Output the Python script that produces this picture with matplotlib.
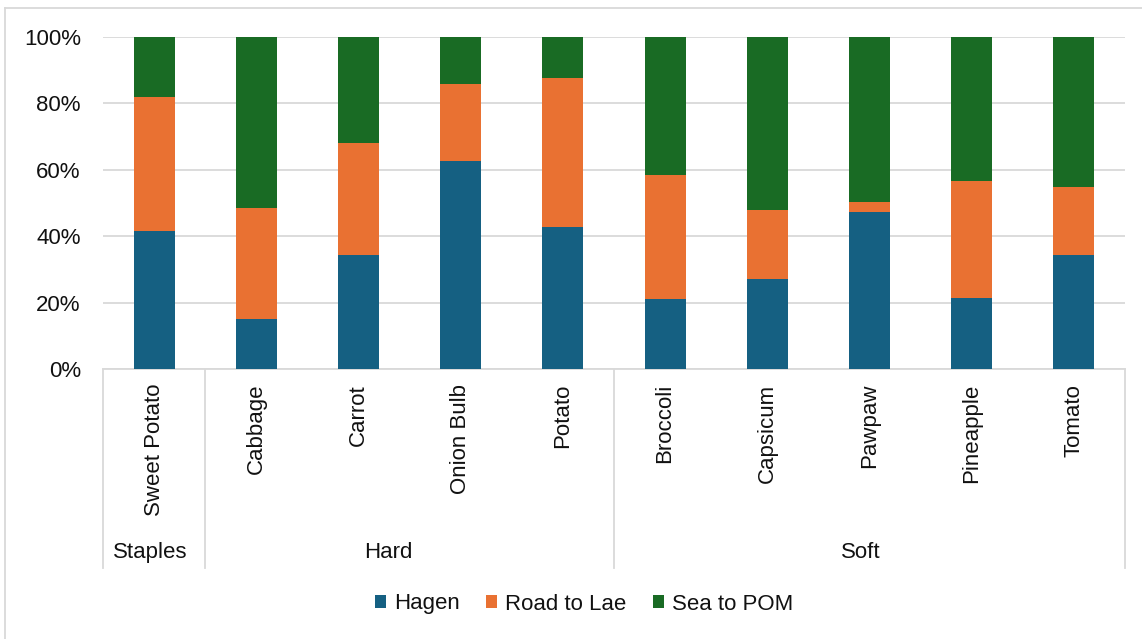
import matplotlib
matplotlib.use("Agg")
import matplotlib.pyplot as plt
from matplotlib.patches import Patch
from matplotlib.lines import Line2D
from matplotlib.ticker import PercentFormatter
import numpy as np

# Share of each product's flow by route (%)
categories = ["Sweet Potato", "Cabbage", "Carrot", "Onion Bulb", "Potato",
              "Broccoli", "Capsicum", "Pawpaw", "Pineapple", "Tomato"]
hagen = [41.6, 15.1, 34.3, 62.7, 42.8, 21.1, 27.1, 47.3, 21.4, 34.3]
road_to_lae = [40.3, 33.4, 33.8, 23.1, 44.9, 37.3, 20.8, 3.0, 35.2, 20.5]
sea_to_pom = [18.1, 51.5, 31.9, 14.2, 12.3, 41.6, 52.1, 49.7, 43.4, 45.2]

groups = ["Staples", "Hard", "Soft"]
group_sizes = [1, 4, 5]

series_names = ["Hagen", "Road to Lae", "Sea to POM"]
colors = ["#156082", "#E97132", "#196B24"]

plt.rcParams["font.family"] = ["Liberation Sans", "DejaVu Sans"]
text_color = "#111111"
grid_color = "#d9d9d9"
fs = 16

fig = plt.figure(figsize=(11.42, 6.39), dpi=100)
W, H = 1142, 639
ax = fig.add_axes([103 / W, (H - 369) / H, (1125 - 103) / W, (369 - 37) / H])

x = np.arange(len(categories))
bottom = np.zeros(len(categories))
for vals, col, name in zip([hagen, road_to_lae, sea_to_pom], colors, series_names):
    ax.bar(x, vals, width=0.4, bottom=bottom, color=col, label=name, zorder=3)
    bottom += np.array(vals)

ax.set_xlim(-0.5, len(categories) - 0.5)
ax.set_ylim(0, 100)
ax.set_yticks(np.arange(0, 101, 20))
ax.yaxis.set_major_formatter(PercentFormatter(decimals=0))
ax.tick_params(axis="y", length=0, pad=16, labelsize=fs, labelcolor=text_color)
ax.set_xticks([])
ax.grid(axis="y", color=grid_color, linewidth=1.3, zorder=0)
for s in ["top", "right", "left"]:
    ax.spines[s].set_visible(False)
ax.spines["bottom"].set_color(grid_color)
ax.spines["bottom"].set_linewidth(1.3)

trans = ax.get_xaxis_transform()

# Category labels, rotated
for xi, name in zip(x, categories):
    ax.text(xi, -0.045, name, rotation=90, ha="center", va="top",
            fontsize=fs, color=text_color, transform=trans)

# Group separators and labels
edges = np.concatenate([[0], np.cumsum(group_sizes)]) - 0.5
for e in edges:
    ax.add_line(Line2D([e, e], [0, -0.6], transform=trans, color=grid_color,
                       linewidth=1.3, clip_on=False))
group_label_x = [-0.035, 2.29, 6.91]
for gx, g in zip(group_label_x, groups):
    ax.text(gx, -0.554, g, ha="center", va="center", fontsize=fs,
            color=text_color, transform=trans)

# Chart frame edges
fig.add_artist(Line2D([5 / W, 5 / W], [0, (H - 8) / H], transform=fig.transFigure,
                      color=grid_color, linewidth=1.3))
fig.add_artist(Line2D([5 / W, 1], [(H - 8) / H, (H - 8) / H], transform=fig.transFigure,
                      color=grid_color, linewidth=1.3))

handles = [Patch(facecolor=c, edgecolor="none", label=n) for c, n in zip(colors, series_names)]
fig.legend(handles=handles, loc="center", bbox_to_anchor=(584 / W, (H - 604) / H),
           ncol=3, frameon=False, fontsize=fs, handlelength=0.5, handleheight=0.5,
           handletextpad=0.35, columnspacing=1.2, labelcolor=text_color)

fig.savefig("out.png", dpi=100, facecolor="white")
